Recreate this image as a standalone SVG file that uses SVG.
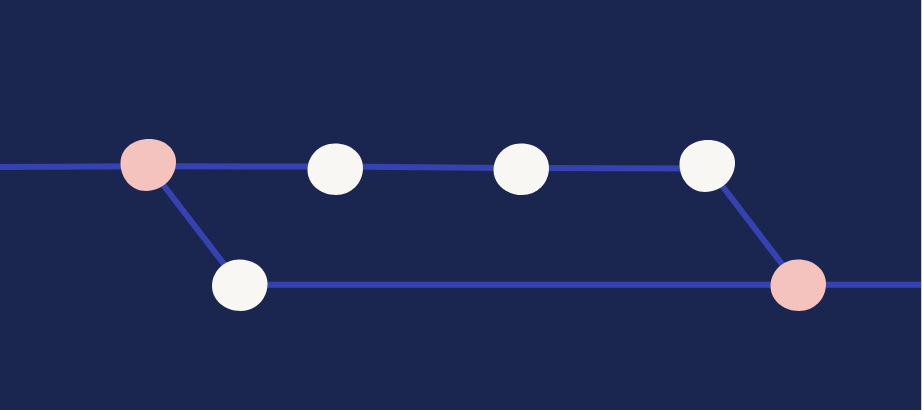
<svg xmlns="http://www.w3.org/2000/svg" width="922" height="410" viewBox="0 0 922 410">
<defs>
<style>
.bg{fill:#1b2650}
.edge{fill:none;stroke:#3543b2;stroke-width:6;stroke-linejoin:round}
.pink{fill:#f4c3bd}
.white{fill:#f8f7f3}
</style>
<path id="blob" d="M -27.5,-2 C -27.5,-16 -15,-26 1,-26 C 17,-26 28,-16 28,-3 C 28,12 15,26 -2,26 C -17,26 -27.5,13 -27.5,-2 Z"/>
<path id="blob2" d="M -27.5,1 C -27.5,-13 -16,-25.5 0,-25.5 C 16,-25.5 28,-15 28,-1 C 28,14 16,26 1,26 C -15,26 -27.5,15 -27.5,1 Z"/>
</defs>
<rect class="bg" x="0" y="0" width="922" height="410"/>
<rect x="921" y="0" width="1" height="410" fill="#c9ccd9"/>
<g id="connectors">
<path class="edge" d="M 0,167 L 148,166.3 L 335,166.5 L 521,168 L 707,168.6"/>
<path class="edge" d="M 148,165 L 240,285"/>
<path class="edge" d="M 240,284.7 L 921,284.7"/>
<path class="edge" d="M 707,166 L 798,285"/>
</g>
<g id="node-c1"><use href="#blob" class="pink" transform="translate(148,165)"/></g>
<g id="node-c2"><use href="#blob2" class="white" transform="translate(335,169)"/></g>
<g id="node-c3"><use href="#blob2" class="white" transform="translate(521,169)"/></g>
<g id="node-c4"><use href="#blob" class="white" transform="translate(707,166)"/></g>
<g id="node-b1"><use href="#blob2" class="white" transform="translate(239.5,285)"/></g>
<g id="node-m1"><use href="#blob2" class="pink" transform="translate(798,285)"/></g>
</svg>
